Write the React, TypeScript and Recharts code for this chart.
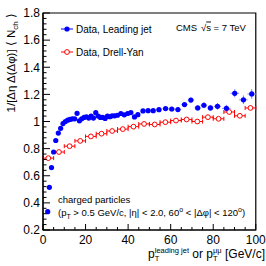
import React from 'react'
import { ScatterChart, Scatter, XAxis, YAxis, ErrorBar, ReferenceArea } from 'recharts'

// leading jet (blue, filled)
const leadPt = [2.2, 3.0, 4.0, 5.0, 6.0, 7.2, 8.3, 9.4, 10.5, 11.6, 12.7, 13.8, 14.9, 16.0, 17.1, 18.2, 19.3, 20.4, 21.5, 22.6, 23.7, 24.8, 25.9, 27.0, 28.1, 29.2, 30.3, 31.4, 32.5, 33.7, 35.0, 36.6, 38.2, 39.8, 41.3, 43.0, 44.6, 47.0, 49.4, 51.8, 54.5, 57.6, 60.5, 63.4, 66.5, 69.5, 72.7, 75.6, 78.7, 82.0, 86.2, 90.1, 94.2, 98.1]
const leadVal = [0.335, 0.515, 0.66, 0.775, 0.86, 0.915, 0.95, 0.985, 1.0, 1.01, 1.015, 1.02, 1.02, 1.06, 1.005, 1.02, 1.03, 1.035, 1.025, 1.04, 1.025, 1.065, 1.04, 1.03, 1.03, 1.022, 1.04, 1.035, 1.042, 1.042, 1.046, 1.059, 1.049, 1.059, 1.066, 1.034, 1.05, 1.078, 1.08, 1.08, 1.087, 1.095, 1.092, 1.088, 1.125, 1.158, 1.1, 1.12, 1.1, 1.112, 1.097, 1.208, 1.16, 1.203]
const leadErrX = [0.5, 0.5, 0.5, 0.5, 0.5, 0.5, 0.5, 0.5, 0.5, 0.5, 0.5, 0.5, 0.5, 0.5, 0.5, 0.5, 0.5, 0.5, 0.5, 0.5, 0.5, 0.5, 0.5, 0.5, 0.5, 0.5, 0.5, 0.5, 0.6, 0.6, 0.6, 0.7, 0.7, 0.7, 0.8, 0.8, 0.8, 1.2, 1.2, 1.2, 1.4, 1.5, 1.5, 1.5, 1.5, 1.5, 1.5, 1.5, 1.5, 1.7, 2.0, 2.0, 2.0, 2.0]
const leadErrY = [0.004, 0.004, 0.004, 0.004, 0.004, 0.005, 0.005, 0.005, 0.005, 0.005, 0.005, 0.005, 0.006, 0.006, 0.006, 0.006, 0.006, 0.007, 0.007, 0.007, 0.007, 0.008, 0.008, 0.008, 0.008, 0.008, 0.009, 0.009, 0.009, 0.009, 0.01, 0.01, 0.01, 0.011, 0.011, 0.011, 0.012, 0.012, 0.013, 0.013, 0.014, 0.015, 0.016, 0.017, 0.018, 0.02, 0.02, 0.022, 0.022, 0.024, 0.026, 0.03, 0.032, 0.035]

// Drell-Yan (red, open)
const dyPt = [2.5, 7.5, 12.5, 17.5, 22.5, 27.5, 32.5, 37.5, 42.5, 47.5, 52.5, 57.5, 62.5, 67.5, 72.5, 77.5, 82.5, 87.5, 92.5, 97.5]
const dyVal = [0.73, 0.775, 0.818, 0.857, 0.89, 0.91, 0.93, 0.944, 0.962, 0.982, 0.978, 0.995, 1.007, 1.015, 1.0, 1.032, 1.02, 1.07, 1.042, 1.1]
const dyErrY = [0.004, 0.004, 0.004, 0.005, 0.005, 0.005, 0.006, 0.006, 0.006, 0.007, 0.007, 0.008, 0.008, 0.009, 0.009, 0.01, 0.011, 0.012, 0.013, 0.014]
const DY_HALF_BIN = 2.5

const xMajor = [0, 20, 40, 60, 80, 100]
const yMajor = [0.2, 0.4, 0.6, 0.8, 1.0, 1.2, 1.4, 1.6, 1.8]

const FONT = 'Liberation Sans, Arial, Helvetica, sans-serif'
const BLAU = '#0000ff'
const ROT = '#ff0000'

const xTicks: number[] = []
for (let i = 0; i <= 20; i++) xTicks.push(i * 5)
const yTicks: number[] = []
for (let i = 0; i <= 40; i++) yTicks.push(Math.round((0.2 + i * 0.04) * 100) / 100)

const isMajor = (v: number, list: number[]) => list.some(m => Math.abs(m - v) < 1e-6)

const leadData = leadPt.map((x, i) => ({ x, y: leadVal[i], ex: leadErrX[i], ey: leadErrY[i] }))
const dyData = dyPt.map((x, i) => ({ x, y: dyVal[i], ex: DY_HALF_BIN, ey: dyErrY[i] }))

function XTick(props: any) {
  const { x, y, payload } = props
  const major = isMajor(payload.value, xMajor)
  return (
    <g>
      <line x1={x} x2={x} y1={y} y2={y - (major ? 6 : 3)} stroke="#000" strokeWidth={1} />
      {major && (
        <text x={x} y={y + 13.5} textAnchor="middle" fontSize={12} fontFamily={FONT} fill="#000">
          {payload.value}
        </text>
      )}
    </g>
  )
}

function YTick(props: any) {
  const { x, y, payload } = props
  const major = isMajor(payload.value, yMajor)
  return (
    <g>
      <line x1={x} x2={x + (major ? 7 : 3.5)} y1={y} y2={y} stroke="#000" strokeWidth={1} />
      {major && (
        <text x={x - 3} y={y + 4.3} textAnchor="end" fontSize={12} fontFamily={FONT} fill="#000">
          {Number(payload.value.toFixed(1)).toString()}
        </text>
      )}
    </g>
  )
}

const blauPunkt = (p: any) => <circle cx={p.cx} cy={p.cy} r={2.6} fill={BLAU} />
const rotPunkt = (p: any) => <circle cx={p.cx} cy={p.cy} r={2.4} fill="#fff" stroke={ROT} strokeWidth={1} />

export default function App() {
  return (
    <div style={{ position: 'absolute', left: 0, top: 0, width: 266, height: 266, background: '#fff' }}>
      <ScatterChart width={266} height={266} margin={{ top: 13, right: 10, bottom: 0, left: 0 }}>
        <XAxis type="number" dataKey="x" domain={[0, 100]} ticks={xTicks} interval={0}
          tickLine={false} tickSize={0} tickMargin={0} height={36} tick={XTick}
          axisLine={{ stroke: '#000', strokeWidth: 1.2 }} />
        <YAxis type="number" dataKey="y" domain={[0.2, 1.8]} ticks={yTicks} interval={0}
          tickLine={false} tickSize={0} tickMargin={0} width={43} tick={YTick}
          axisLine={{ stroke: '#000', strokeWidth: 1.2 }} />
        <ReferenceArea x1={0} x2={100} y1={0.2} y2={1.8} fill="none" stroke="#000" strokeWidth={1.2} />
        <Scatter data={dyData} shape={rotPunkt} isAnimationActive={false}>
          <ErrorBar dataKey="ex" direction="x" width={2} stroke={ROT} strokeWidth={1} />
          <ErrorBar dataKey="ey" direction="y" width={0} stroke={ROT} strokeWidth={1} />
        </Scatter>
        <Scatter data={leadData} shape={blauPunkt} isAnimationActive={false}>
          <ErrorBar dataKey="ex" direction="x" width={0} stroke="#7f7fff" strokeWidth={1} />
          <ErrorBar dataKey="ey" direction="y" width={0} stroke="#7f7fff" strokeWidth={1} />
        </Scatter>
      </ScatterChart>
      <svg width={266} height={266} style={{ position: 'absolute', left: 0, top: 0, pointerEvents: 'none' }}
        fontFamily={FONT}>
        {/* y title */}
        <text x={14.5} y={13} transform="rotate(-90 14.5 13)" textAnchor="end" fontSize={11.5} fill="#000">
          1/[Δη Δ(Δφ)] ⟨ N<tspan fontSize={8} dy={3}>ch</tspan><tspan dy={-3}> ⟩</tspan>
        </text>
        {/* x title */}
        <text x={265} y={257.5} textAnchor="end" fontSize={12} fill="#000">
          p<tspan fontSize={7.5} dy={3}>T</tspan><tspan fontSize={7.5} dx={-4.6} dy={-7.5}>leading jet</tspan>
          <tspan dy={4.5}> or p</tspan><tspan fontSize={7.5} dy={3}>T</tspan><tspan fontSize={7.5} dx={-4.6} dy={-7.5}>μμ</tspan>
          <tspan dy={4.5}> [GeV/c]</tspan>
        </text>
        {/* legend */}
        <line x1={61} x2={73} y1={29} y2={29} stroke={BLAU} strokeWidth={1} />
        <circle cx={67} cy={29} r={2.6} fill={BLAU} />
        <text x={76} y={32.5} fontSize={10} fill="#000">Data, Leading jet</text>
        <line x1={61} x2={73} y1={52} y2={52} stroke={ROT} strokeWidth={1} />
        <circle cx={67} cy={52} r={2.4} fill="#fff" stroke={ROT} strokeWidth={1} />
        <text x={76} y={55.5} fontSize={10} fill="#000">Data, Drell-Yan</text>
        {/* CMS */}
        <text x={176} y={30.5} fontSize={9.5} fill="#000">CMS</text>
        <text x={201} y={30.5} fontSize={9.5} fill="#000">√<tspan textDecoration="overline">s</tspan> = 7 TeV</text>
        {/* selection */}
        <text x={58} y={203} fontSize={9.5} fill="#000">charged particles</text>
        <text x={58} y={216} fontSize={9.5} fill="#000">
          (p<tspan fontSize={7} dy={2.5}>T</tspan><tspan dy={-2.5}> &gt; 0.5 GeV/c, |η| &lt; 2.0, 60</tspan>
          <tspan fontSize={7} dy={-4}>o</tspan><tspan dy={4}> &lt; |Δφ| &lt; 120</tspan>
          <tspan fontSize={7} dy={-4}>o</tspan><tspan dy={4}>)</tspan>
        </text>
      </svg>
    </div>
  )
}
